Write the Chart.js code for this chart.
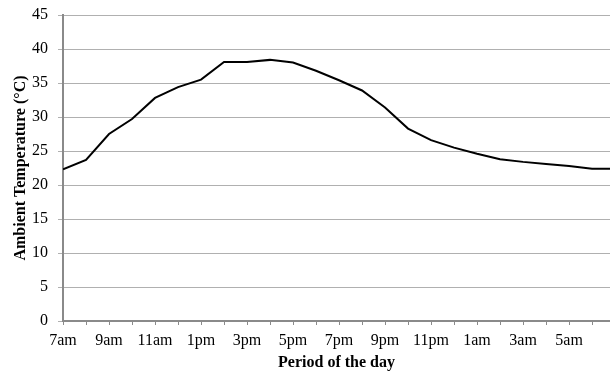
<!DOCTYPE html>
<html>
<head>
<meta charset="utf-8">
<script src="https://cdn.jsdelivr.net/npm/chart.js@4/dist/chart.umd.min.js"></script>
<style>
  html, body { margin: 0; padding: 0; background: #fff; }
  #wrap { width: 610px; height: 375px; position: relative; overflow: hidden; }
</style>
</head>
<body>
<div id="wrap"><canvas id="chart"></canvas></div>
<script>
// --- Data ---
const hourLabels = ['7am', '8am', '9am', '10am', '11am', '12pm', '1pm', '2pm', '3pm', '4pm',
    '5pm', '6pm', '7pm', '8pm', '9pm', '10pm', '11pm', '12am', '1am', '2am', '3am', '4am',
    '5am', '6am', '7am'];
const temperatures = [22.3, 23.7, 27.5, 29.7, 32.8, 34.4, 35.5, 38.1, 38.1, 38.4,
    38.0, 36.8, 35.4, 33.9, 31.4, 28.3, 26.6, 25.5, 24.6, 23.8, 23.4, 23.1,
    22.8, 22.4, 22.4];
const yTicks = [0, 5, 10, 15, 20, 25, 30, 35, 40, 45];

const xTitle = 'Period of the day';
const yTitle = 'Ambient Temperature (\u00B0C)';

// --- Styles ---
const fontFamily = "'Liberation Serif', 'Times New Roman', serif";
const gridColor = '#b0b0b0';
const axisColor = '#8a8a8a';

const points = temperatures.map((t, i) => ({ x: i, y: t }));

new Chart(document.getElementById('chart').getContext('2d'), {
    type: 'line',
    data: {
        datasets: [{
            data: points,
            borderColor: '#000',
            borderWidth: 2,
            pointRadius: 0,
            tension: 0,
            fill: false
        }]
    },
    options: {
        responsive: true,
        maintainAspectRatio: false,
        animation: false,
        layout: { padding: { top: 15, right: 0, left: 0, bottom: 0 } },
        plugins: { legend: { display: false }, tooltip: { enabled: false } },
        scales: {
            x: {
                type: 'linear',
                min: 0,
                max: 23.78,
                afterFit: (scale) => { scale.height = 54; },
                afterBuildTicks: (scale) => {
                    scale.ticks = hourLabels.slice(0, 24).map((_, i) => ({ value: i }));
                },
                ticks: {
                    autoSkip: false,
                    maxRotation: 0,
                    padding: 6,
                    color: '#000',
                    font: { family: fontFamily, size: 16 },
                    callback: (v) => (v % 2 === 0 ? hourLabels[v] : '')
                },
                grid: { drawOnChartArea: false, drawTicks: true, tickLength: 4, color: axisColor },
                border: { color: axisColor, width: 2 },
                title: {
                    display: true,
                    text: xTitle,
                    color: '#000',
                    font: { family: fontFamily, size: 16, weight: 'bold' },
                    padding: { top: 0, bottom: 3 }
                }
            },
            y: {
                min: 0,
                max: 45,
                afterFit: (scale) => {
                    scale.width = 63;
                    scale.paddingTop = 0;
                    scale.paddingBottom = 0;
                },
                afterBuildTicks: (scale) => {
                    scale.ticks = yTicks.map(v => ({ value: v }));
                },
                ticks: {
                    padding: 10,
                    color: '#000',
                    font: { family: fontFamily, size: 16 }
                },
                grid: { color: gridColor, lineWidth: 1, tickLength: 5 },
                border: { color: axisColor, width: 2 },
                title: {
                    display: true,
                    text: yTitle,
                    color: '#000',
                    font: { family: fontFamily, size: 16, weight: 'bold' },
                    padding: { top: 11, bottom: 0 }
                }
            }
        }
    }
});
</script>
</body>
</html>
